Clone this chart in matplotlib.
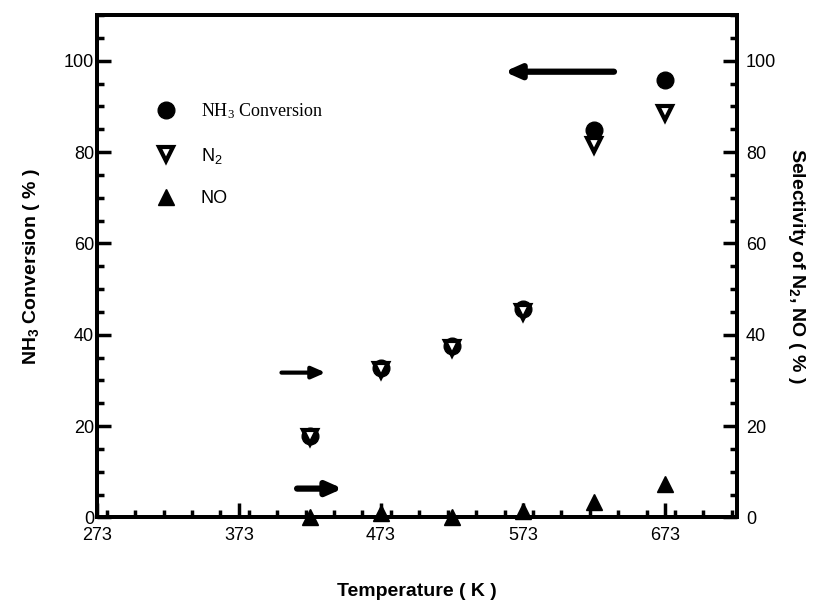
"""
NH3 conversion and N2 / NO selectivity against temperature.
"""

# ---------- Imports ---------- #
import matplotlib
matplotlib.use("Agg")
import matplotlib.pyplot as plt
from matplotlib.ticker import MultipleLocator
from matplotlib.font_manager import FontProperties

# ---------- Data ---------- #
temperature = [423, 473, 523, 573, 623, 673]
nh3_conversion = [17.9, 32.7, 37.6, 45.6, 84.9, 95.8]
n2_selectivity = [17.5, 32.2, 37.1, 44.9, 81.6, 88.5]
no_selectivity = [0.0, 1.0, 0.0, 1.4, 3.3, 7.2]

x_ticks = [273, 373, 473, 573, 673]

# ---------- Plot ---------- #
plt.rcParams['font.family'] = 'Liberation Sans'
plt.rcParams['mathtext.default'] = 'regular'

fig = plt.figure(figsize=(8.14, 6.03), dpi=100)
ax = fig.add_axes([0.119, 0.142, 0.787, 0.833])
ax2 = ax.twinx()

ax.plot(temperature, nh3_conversion, 'o', color='black', markersize=12,
        label=r'NH$_3$ Conversion', clip_on=False, zorder=3)
ax2.plot(temperature, n2_selectivity, 'v', markerfacecolor='white',
         markeredgecolor='black', markeredgewidth=3, markersize=10,
         label=r'N$_2$', clip_on=False, zorder=4)
ax2.plot(temperature, no_selectivity, '^', color='black', markersize=12,
         label='NO', clip_on=False, zorder=4)

for a in (ax, ax2):
    a.set_xlim(273, 724)
    a.set_ylim(0, 110)
    a.yaxis.set_major_locator(MultipleLocator(20))
    a.yaxis.set_minor_locator(MultipleLocator(5))
    for s in a.spines.values():
        s.set_linewidth(2.8)

ax.set_xticks(x_ticks)
ax.xaxis.set_minor_locator(MultipleLocator(20))
ax.tick_params(which='both', direction='in', width=2.5, labelsize=13,
               top=False, right=False)
ax.tick_params(axis='x', pad=7)
ax.tick_params(axis='y', pad=2)
ax.tick_params(which='major', length=10)
ax.tick_params(which='minor', length=5)
ax2.tick_params(which='both', direction='in', width=2.5, labelsize=13, pad=6)
ax2.tick_params(which='major', length=10)
ax2.tick_params(which='minor', length=5)

ax.set_xlabel('Temperature ( K )', fontsize=14, fontweight='bold', labelpad=28)
ax.set_ylabel(r'NH$_3$ Conversion ( % )', fontsize=14, fontweight='bold',
              labelpad=16)
ax2.set_ylabel(r'Selectivity of N$_2$, NO ( % )', fontsize=14,
               fontweight='bold', rotation=270, labelpad=22)

# Arrows showing which axis each series belongs to
arrow = dict(arrowstyle='-|>,head_length=0.9,head_width=0.4', lw=4.5,
             color='black')
ax.annotate('', xy=(558, 97.6), xytext=(639, 97.6), arrowprops=arrow)
ax.annotate('', xy=(436, 31.7), xytext=(401, 31.7),
            arrowprops=dict(arrowstyle='-|>,head_length=0.8,head_width=0.35',
                            lw=3, color='black'))
ax.annotate('', xy=(448, 6.3), xytext=(412, 6.3), arrowprops=arrow)

# Legend
h1, l1 = ax.get_legend_handles_labels()
h2, l2 = ax2.get_legend_handles_labels()
leg = ax2.legend(h1 + h2, l1 + l2, loc='upper left', frameon=False,
                 bbox_to_anchor=(0.055, 0.86), fontsize=13, labelspacing=1.35,
                 handletextpad=0.9)
for i, t in enumerate(leg.get_texts()):
    fam = 'Liberation Serif' if i == 0 else 'Liberation Sans'
    t.set_fontproperties(FontProperties(family=fam, size=13))

fig.savefig('out.png', dpi=100)
